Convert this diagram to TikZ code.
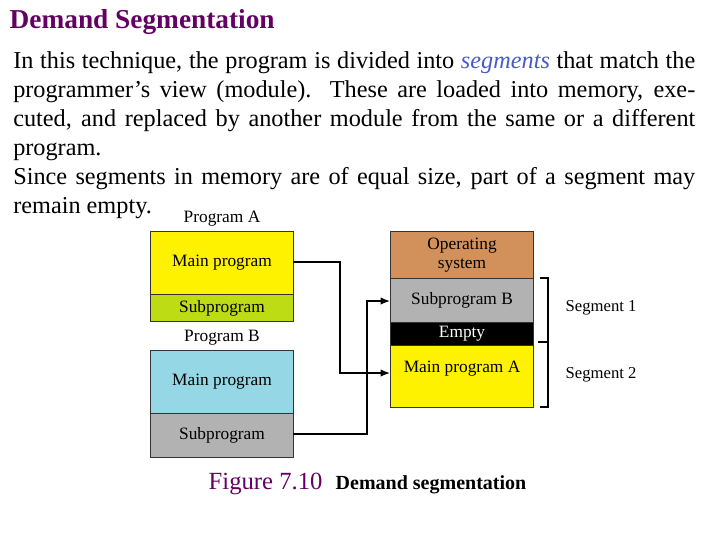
\documentclass[tikz,border=0pt]{standalone}
\usepackage{fontspec}
\setmainfont{Liberation Serif}
\begin{document}
\begin{tikzpicture}[x=0.75pt,y=-0.75pt,
 box/.style={draw=black!80,line width=0.8pt,minimum width=143*0.75pt,inner sep=0pt,font=\fontsize{13}{14.5}\selectfont,align=center,anchor=north west},
 lab/.style={font=\fontsize{13}{15}\selectfont},
 arr/.style={line width=1pt,-{Latex[length=7pt,width=5.5pt]}}]
\usetikzlibrary{arrows.meta}
\useasboundingbox (0,0) rectangle (720,540);
\definecolor{ttl}{RGB}{100,0,100}
\definecolor{seg}{RGB}{70,90,200}
\node[anchor=west,text=ttl,font=\fontsize{20.5}{22}\selectfont\bfseries] (title) at (5,22) {Demand Segmentation};
\node[anchor=north west,inner sep=0pt,text width=682*0.75pt,align=justify,font=\fontsize{18.2}{21.75}\selectfont] (body) at (13,51)
 {In this technique, the program is divided into \textcolor{seg}{\itshape segments} that match the programmer’s view (module). These are loaded into memory, executed, and replaced by another module from the same or a different program.\\Since segments in memory are of equal size, part of a segment may remain empty.};
\node[lab] (pa) at (222,219) {Program A};
\node[box,fill=yellow,minimum height=63*0.75pt] (ma) at (150,231) {Main program};
\node[box,fill={rgb,255:red,190;green,220;blue,20},minimum height=27*0.75pt] (sa) at (150,294) {Subprogram};
\node[lab] (pb) at (222,338) {Program B};
\node[box,fill={rgb,255:red,150;green,215;blue,230},minimum height=63*0.75pt] (mb) at (150,350) {Main program};
\node[box,fill=black!30,minimum height=44*0.75pt] (sb) at (150,413) {Subprogram};
\node[box,fill={rgb,255:red,210;green,145;blue,90},minimum height=47*0.75pt] (os) at (390,231) {Operating\\system};
\node[box,fill=black!30,minimum height=44*0.75pt] (msb) at (390,278) {Subprogram B};
\node[box,fill=black,text=white,minimum height=23*0.75pt] (emp) at (390,322) {Empty};
\node[box,fill=yellow,minimum height=62*0.75pt] (mma) at (390,345) {\raisebox{14pt}{Main program A}};
\draw[line width=1pt] (540,278) -- (548,278) -- (548,407) -- (540,407);
\draw[line width=2pt] (538,342) -- (548,342);
\node[lab,anchor=west,font=\fontsize{12.5}{15}\selectfont] (s1) at (561,308) {Segment 1};
\node[lab,anchor=west,font=\fontsize{12.5}{15}\selectfont] (s2) at (561,375) {Segment 2};
\coordinate (a1) at (293,262);
\coordinate (a2) at (293,434);
\draw[arr] (a1) -- (340,262) -- (340,373) -- (mma.west |- 0,373);
\draw[arr] (a2) -- (367,434) -- (367,301) -- (msb.west |- 0,301);
\node[anchor=base west,text=ttl,font=\fontsize{18.5}{20}\selectfont] (fig) at (204,489) {Figure 7.10};
\node[anchor=base west,font=\fontsize{15}{17}\selectfont\bfseries] (cap) at (331,489) {Demand segmentation};
\end{tikzpicture}
\end{document}
